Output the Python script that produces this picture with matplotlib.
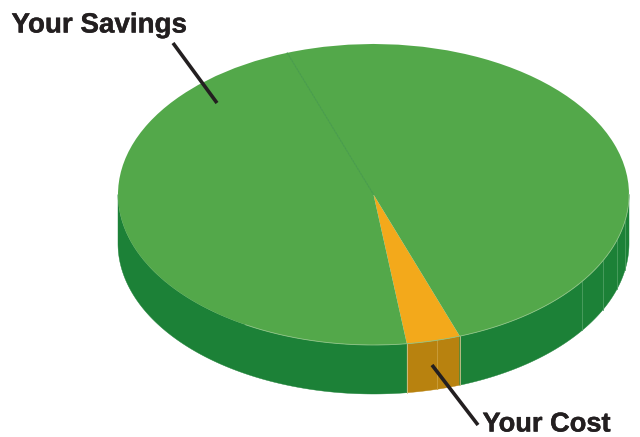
import numpy as np
import matplotlib
matplotlib.use("Agg")
import matplotlib.pyplot as plt
import matplotlib.patheffects as pe

labels = ["Your Cost", "Your Savings", "Your Savings"]
values = [3.4, 50.0, 46.6]
top_colors = ["#f3a91b", "#53a84a", "#53a84a"]
wall_colors = ["#b8820f", "#1c8137", "#1c8137"]
start_angle = -82.5
wall_seam_x = [437, 582, 603, 617, 625]

W, H = 640, 437
CX, CY, RX, RY, DEPTH = 373.5, 194.5, 255.5, 150.5, 49.0

fig = plt.figure(figsize=(W / 100, H / 100), dpi=100)
ax = fig.add_axes([0, 0, 1, 1])
ax.set_xlim(-CX / RX, (W - CX) / RX)
ax.set_ylim(-(H - CY) / RY, CY / RY)
ax.axis("off")


def px(x, y):
    return (x - CX) / RX, (CY - y) / RY


depth = DEPTH / RY
sweeps = np.array(values) / sum(values) * 360
edges = start_angle + np.concatenate([[0], np.cumsum(sweeps)])

# Side wall: only the part of each slice facing the viewer is visible
for a0, a1, col in zip(edges[:-1], edges[1:], wall_colors):
    for lo, hi in [(-180, 0), (180, 360)]:
        s, e = max(a0, lo), min(a1, hi)
        if e <= s:
            continue
        th = np.radians(np.linspace(s, e, 200))
        xs, ys = np.cos(th), np.sin(th)
        ax.fill(np.r_[xs, xs[::-1]], np.r_[ys, ys[::-1] - depth],
                color=col, lw=0.3, zorder=1)

# Slice boundaries and facet seams on the wall
seam_color = "#4f9f63"
for x_pix in wall_seam_x:
    x = (x_pix - CX) / RX
    y = -np.sqrt(1 - x ** 2)
    col = "#cb9f3f" if x_pix < 460 else seam_color
    ax.plot([x, x], [y, y - depth], color=col, lw=0.6, zorder=2)
for a in edges[:-1]:
    if np.sin(np.radians(a)) < 0:
        x, y = np.cos(np.radians(a)), np.sin(np.radians(a))
        ax.plot([x, x], [y, y - depth], color="#cfc58f", lw=0.6, zorder=2)

# Top face
wedges, _ = ax.pie(values, colors=top_colors, startangle=start_angle,
                   counterclock=True, radius=1, center=(0, 0), frame=False,
                   wedgeprops={"linewidth": 0}, normalize=True)
ax.set_aspect("auto")
ax.set_xlim(-CX / RX, (W - CX) / RX)
ax.set_ylim(-(H - CY) / RY, CY / RY)
for w in wedges:
    w.set_zorder(3)

# Pale rim along the front of the top face, thin seam between the green slices
th = np.radians(np.linspace(-120, 0, 300))
ax.plot(np.cos(th), np.sin(th), color="#8fc486", lw=0.6, zorder=4)
a = np.radians(edges[2])
ax.plot([0, np.cos(a)], [0, np.sin(a)], color="#3f9645", lw=0.6, zorder=4)

# Labels with leader lines
ink = "#231f20"
ax.plot(*zip(px(173, 43), px(217, 103)), color=ink, lw=2.6,
        solid_capstyle="butt", zorder=5)
ax.plot(*zip(px(432, 365), px(478, 425)), color=ink, lw=2.6,
        solid_capstyle="butt", zorder=5)
heavier = [pe.withStroke(linewidth=0.3, foreground=ink)]
ax.text(*px(11.5, 32.5), labels[1], fontsize=20, fontweight="bold",
        family="Liberation Sans", color=ink, ha="left", va="baseline",
        zorder=6, path_effects=heavier)
ax.text(*px(482.5, 431.5), labels[0], fontsize=19.6, fontweight="bold",
        family="Liberation Sans", color=ink, ha="left", va="baseline",
        zorder=6, path_effects=heavier)

fig.savefig("out.png", dpi=100)
